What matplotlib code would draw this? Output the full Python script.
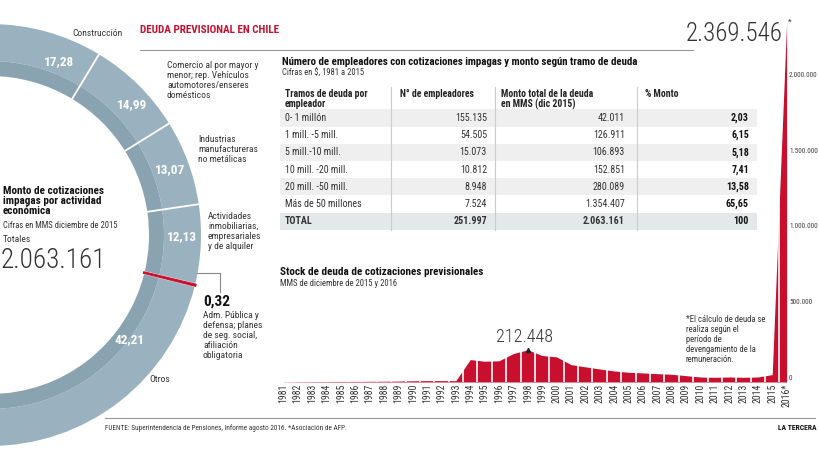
import numpy as np
import matplotlib
matplotlib.use("Agg")
import matplotlib.pyplot as plt
from matplotlib.patches import Wedge, Rectangle

plt.rcParams['font.family'] = ['Roboto Condensed', 'DejaVu Sans']
BIG_FONT = ['Roboto Condensed', 'DejaVu Sans']

RED = '#c8102e'
RING = '#9ab2bf'
RING_DARK = '#89a3b0'
TEXT = '#333333'

# Donut: monto de cotizaciones impagas por actividad (%)
sectores = ['Construcción',
            'Comercio al por mayor y\nmenor; rep. Vehículos\nautomotores/enseres\ndomésticos',
            'Industrias\nmanufactureras\nno metálicas',
            'Actividades\ninmobiliarias,\nempresariales\ny de alquiler',
            'Adm. Pública y\ndefensa; planes\nde seg. social,\nafiliación\nobligatoria',
            'Otros']
sector_pct = [17.28, 14.99, 13.07, 12.13, 0.32, 42.21]
total_monto = 2063161

# Table: tramos de deuda
tramos = ['0- 1 millón', '1 mill. -5 mill.', '5 mill.-10 mill.', '10 mill. -20 mill.',
          '20 mill. -50 mill.', 'Más de 50 millones']
empleadores = [155135, 54505, 15073, 10812, 8948, 7524]
monto = [42011, 126911, 106893, 152851, 280089, 1354407]
pct_monto = [2.03, 6.15, 5.18, 7.41, 13.58, 65.65]
total_empleadores = 251997
total_pct = 100

# Stock de deuda (MM$)
years = list(range(1981, 2017))
stock = [1000, 2000, 2500, 3000, 3500, 4000, 4500, 5000, 6000, 8000, 9000, 9000, 9000,
         148000, 137000, 140000, 188000, 212448, 175000, 166000, 115000, 100000, 86000,
         73000, 64000, 60000, 55000, 51000, 42000, 33000, 31000, 33000, 31000, 33000,
         49000, 2369546]
year_labels = [str(y) for y in years[:-1]] + ['2016*']
y_ticks = [0, 500000, 1000000, 1500000, 2000000]


def fmt(n):
    return f"{n:,}".replace(',', '.')


def fmt_pct(p):
    return f"{p:.2f}".replace('.', ',')


W, H = 820, 453
fig = plt.figure(figsize=(W / 100, H / 100), dpi=100)
ax = fig.add_axes([0, 0, 1, 1])
ax.set_xlim(0, W)
ax.set_ylim(H, 0)
ax.axis('off')

# ---- donut (half ring, clockwise from the top) ----
cx, cy = -10, 235
r_out, r_mid, r_in = 211, 174, 159
cum = np.concatenate([[0], np.cumsum(sector_pct)])
for i, p in enumerate(sector_pct):
    t1 = cum[i] * 1.8 - 90
    t2 = cum[i + 1] * 1.8 - 90
    if sectores[i].startswith('Adm'):
        continue
    ax.add_patch(Wedge((cx, cy), r_out, t1, t2, width=r_out - r_mid,
                       facecolor=RING, edgecolor='none', zorder=2))
    ax.add_patch(Wedge((cx, cy), r_mid, t1, t2, width=r_mid - r_in,
                       facecolor=RING_DARK, edgecolor='none', zorder=2))

# white separators between sectors
for c in cum[1:-1]:
    a = np.deg2rad(90 - c * 1.8)
    ax.plot([cx + r_in * np.cos(a), cx + r_out * np.cos(a)],
            [cy - r_in * np.sin(a), cy - r_out * np.sin(a)], color='white', lw=1.3, zorder=3)

# small red slice
i_adm = [s.startswith('Adm') for s in sectores].index(True)
ax.add_patch(Wedge((cx, cy), r_out + 1, cum[i_adm] * 1.8 - 90, cum[i_adm + 1] * 1.8 - 90,
                   width=r_out - r_in + 2, facecolor=RED, edgecolor=RED, lw=0.8, zorder=4))

# values on the ring
val_pos = [(59, 62), (132, 105), (170, 170), (182, 237), None, (130, 340)]
for p, pos in zip(sector_pct, val_pos):
    if pos:
        ax.text(pos[0], pos[1], fmt_pct(p), color='white', fontsize=9.5,
                fontweight='bold', ha='center', va='center', zorder=5)

# sector labels
lab_pos = [(72, 34), (167, 61), (198, 135), (208, 212), (203, 311), (160, 380)]
for s, pos in zip(sectores, lab_pos):
    ha = 'center' if s == 'Otros' else 'left'
    va = 'center' if s in ('Otros', 'Construcción') else 'top'
    ax.text(pos[0], pos[1], s, fontsize=6.8, color=TEXT, ha=ha, va=va, linespacing=1.15)

# leader for the small red slice
ax.plot([197, 220, 220], [273, 273, 292], color='#888888', lw=0.8)
ax.text(203, 302, fmt_pct(sector_pct[i_adm]), fontsize=11, fontweight='bold', color='#111111',
        ha='left', va='center')

ax.text(3, 186, 'Monto de cotizaciones\nimpagas por actividad\neconómica', fontsize=8,
        fontweight='bold', color='#111111', va='top', linespacing=1.0)
ax.text(3, 225, 'Cifras en MMS diciembre de 2015', fontsize=6.2, color=TEXT, va='center')
ax.text(3, 240, 'Totales', fontsize=6.8, color=TEXT, va='center')
ax.text(1, 261, fmt(total_monto), fontsize=19.5, color=TEXT, va='center',
        family=BIG_FONT, fontweight='light')

# ---- header ----
ax.text(140, 30, 'DEUDA PREVISIONAL EN CHILE', color=RED, fontsize=8,
        fontweight='bold', va='center')
ax.plot([140, 693], [50, 50], color='#999999', lw=0.8)

# ---- table ----
ax.text(282, 62, 'Número de empleadores con cotizaciones impagas y monto según tramo de deuda',
        fontsize=7.8, fontweight='bold', color='#111111', va='center')
ax.text(282, 73, 'Cifras en $, 1981 a 2015', fontsize=6.2, color=TEXT, va='center')

hy = 89
ax.text(285, hy, 'Tramos de deuda por\nempleador', fontsize=7, fontweight='bold',
        color='#222222', va='top', linespacing=1.0)
ax.text(400, hy, 'N° de empleadores', fontsize=7, fontweight='bold', color='#222222', va='top')
ax.text(501, hy, 'Monto total de la deuda\nen MMS (dic 2015)', fontsize=7, fontweight='bold',
        color='#222222', va='top', linespacing=1.0)
ax.text(645, hy, '% Monto', fontsize=7, fontweight='bold', color='#222222', va='top')

row_h = 17.2
rows = list(zip(tramos, empleadores, monto, pct_monto))
rows.append(('TOTAL', total_empleadores, total_monto, total_pct))
for i, (t, e, m, p) in enumerate(rows):
    yc = 118 + i * row_h
    total = t == 'TOTAL'
    if i % 2 == 0:
        ax.add_patch(Rectangle((280, yc - row_h / 2), 477, row_h,
                               facecolor='#e3e8eb' if total else '#efefef', edgecolor='none', zorder=0))
    w = 'bold' if total else 'normal'
    ax.text(285, yc, t, fontsize=7.2, fontweight=w, color=TEXT, va='center')
    ax.text(487, yc, fmt(e), fontsize=7.2, fontweight=w, color=TEXT, va='center', ha='right')
    ax.text(625, yc, fmt(m), fontsize=7.2, fontweight=w, color=TEXT, va='center', ha='right')
    ps = str(p) if total else fmt_pct(p)
    ax.text(749, yc, ps, fontsize=7.2, fontweight='bold', color='#111111', va='center', ha='right')

for x in [391, 495, 637]:
    ax.plot([x, x], [87, 230], color='#cccccc', lw=0.8, zorder=1)

# ---- stock chart ----
ax.text(280, 272, 'Stock de deuda de cotizaciones previsionales', fontsize=8,
        fontweight='bold', color='#111111', va='center')
ax.text(280, 284, 'MMS de diciembre de 2015 y 2016', fontsize=6.2, color=TEXT, va='center')
ax.text(686, 315, '*El cálculo de deuda se\nrealiza según el\nperíodo de\ndevengamiento de la\nremuneración.',
        fontsize=6.2, color=TEXT, va='top', linespacing=1.15)

left, right, top, base = 270, 789, 20, 382
ax2 = fig.add_axes([left / W, (H - base) / H, (right - left) / W, (base - top) / H])
ax2.patch.set_alpha(0)
px_year = 14.38
ax2.set_xlim(1981 + (left - 283.3) / px_year, 1981 + (right - 283.3) / px_year)
ax2.set_ylim(0, (base - top) / 151.5e-6)

yr = np.array(years, dtype=float)
st = np.array(stock, dtype=float)
ax2.fill_between(yr, 0, st, color=RED, lw=0)
ax2.vlines(yr[:-1] + 0.5, 0, np.maximum(st[:-1], st[1:]), color='white', lw=1.2)

for s in ax2.spines.values():
    s.set_visible(False)
ax2.set_xticks(years)
ax2.set_xticklabels(year_labels, rotation=90, fontsize=7, color=TEXT)
ax2.tick_params(axis='x', length=0, pad=1)
ax2.yaxis.tick_right()
ax2.set_yticks(y_ticks)
ax2.set_yticklabels([fmt(v) for v in y_ticks], fontsize=5.3, color='#444444')
ax2.tick_params(axis='y', length=0, pad=0)
for t in ax2.get_yticklabels():
    t.set_va('bottom')

# peak annotations
i98 = years.index(1998)
ax2.plot(years[i98], stock[i98], marker='^', ms=3, color='#222222')
ax2.annotate(fmt(stock[i98]), xy=(years[i98], stock[i98]), xytext=(-2, 3),
             textcoords='offset points', ha='center', va='bottom', fontsize=13,
             color=TEXT, family=BIG_FONT, fontweight='light')
ax2.annotate(fmt(stock[-1]), xy=(years[-1], stock[-1]), xytext=(-3, -8),
             textcoords='offset points', ha='right', va='center', fontsize=18,
             color=TEXT, family=BIG_FONT, fontweight='light')
ax2.annotate('*', xy=(years[-1], stock[-1]), xytext=(1, 1),
             textcoords='offset points', ha='left', va='center', fontsize=6, color=TEXT)

# ---- footer ----
ax.plot([105, 815], [418, 418], color='#999999', lw=0.8)
ax.text(105, 428, 'FUENTE: Superintendencia de Pensiones, Informe agosto 2016. *Asociación de AFP.',
        fontsize=5.2, color=TEXT, va='center')
ax.text(817, 428, 'LA TERCERA', fontsize=5.5, fontweight='bold', color='#111111',
        va='center', ha='right')

fig.savefig('out.png', dpi=100)
